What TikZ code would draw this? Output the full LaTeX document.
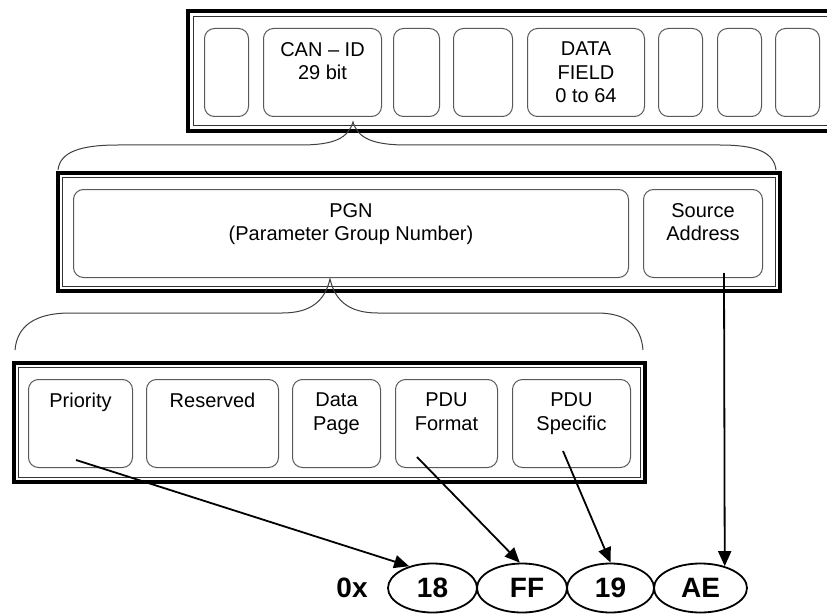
\documentclass[tikz,border=0pt]{standalone}
\usepackage{fontspec}
\setmainfont{Liberation Sans}
\usetikzlibrary{arrows.meta,shapes.geometric}
\tikzset{
  rbox/.style={draw=black!65, line width=1pt, rounded corners=10pt, minimum height=88pt, inner sep=0pt, anchor=north west},
  lbl/.style={font=\fontsize{20}{23.5}\selectfont, align=center, inner sep=0pt, anchor=north},
  frout/.style={draw=black, line width=4pt},
  frin/.style={draw=black!80, line width=1pt},
  brace/.style={draw=black!75, line width=1pt},
  ell/.style={draw=black, line width=1.8pt, ellipse, minimum height=49pt, inner sep=0pt, font=\fontsize{28}{30}\selectfont\bfseries},
  arr/.style={draw=black, line width=1.8pt, -{Triangle[length=15pt,width=13pt]}}
}
\begin{document}
\begin{tikzpicture}[x=1pt,y=-1pt]
\useasboundingbox (0,0) rectangle (827,615);
\clip (0,0) rectangle (827,615);
\fill[white] (0,0) rectangle (827,615);

% ---------- frame 1 (CAN frame) ----------
\draw[frout] (188,11.5) rectangle (850,131);
\draw[frin] (193,16.5) rectangle (845,126);
\node[rbox, minimum width=44pt]  (b1)   at (204,28) {};
\node[rbox, minimum width=118pt] (can)  at (263,28) {};
\node[rbox, minimum width=46pt]  (b3)   at (393,28) {};
\node[rbox, minimum width=59pt]  (b4)   at (453,28) {};
\node[rbox, minimum width=117pt] (data) at (527,28) {};
\node[rbox, minimum width=44pt]  (b6)   at (658,28) {};
\node[rbox, minimum width=44pt]  (b7)   at (717,28) {};
\node[rbox, minimum width=44pt]  (b8)   at (775,28) {};
\node[lbl] (tcan)  at ([yshift=-14pt]can.north)  {CAN -- ID\\29 bit};
\node[lbl] (tdata) at ([yshift=-14pt]data.north) {DATA\\FIELD\\0 to 64};

% ---------- brace 1 ----------
\draw[brace] (58,170) .. controls (60,152) and (80,145) .. (118,145)
  -- (300,145) .. controls (335,145) and (348,138) .. (353,122)
  .. controls (358,138) and (372,145) .. (407,145)
  -- (720,145) .. controls (758,145) and (774,153) .. (776,170);

% ---------- frame 2 ----------
\draw[frout] (58,172.5) rectangle (779.5,291);
\draw[frin] (62.5,177) rectangle (775,286.5);
\node[rbox, minimum width=555pt] (pgn) at (73,189) {};
\node[rbox, minimum width=119pt] (src) at (643,189) {};
\node[lbl] (tpgn) at ([yshift=-14pt]pgn.north) {PGN\\(Parameter Group Number)};
\node[lbl] (tsrc) at ([yshift=-14pt]src.north) {Source\\Address};

% ---------- brace 2 ----------
\draw[brace] (15,350) .. controls (17,326) and (35,313) .. (70,313)
  -- (282,313) .. controls (312,313) and (325,300) .. (330,279)
  .. controls (335,300) and (348,313) .. (378,313)
  -- (597,313) .. controls (627,313) and (641,326) .. (643,350);

% ---------- frame 3 ----------
\draw[frout] (14,362.5) rectangle (645,481.5);
\draw[frin] (18.5,367) rectangle (640.5,477);
\node[rbox, minimum width=104pt] (prio) at (28,379) {};
\node[rbox, minimum width=132pt] (resv) at (146,379) {};
\node[rbox, minimum width=88pt]  (dp)   at (292,379) {};
\node[rbox, minimum width=102pt] (pf)   at (395,379) {};
\node[rbox, minimum width=118pt] (ps)   at (512,379) {};
\node[lbl] (tprio) at ([yshift=-14pt]prio.north) {Priority};
\node[lbl] (tresv) at ([yshift=-14pt]resv.north) {Reserved};
\node[lbl] (tdp)   at ([yshift=-14pt]dp.north)   {Data\\Page};
\node[lbl] (tpf)   at ([yshift=-14pt]pf.north)   {PDU\\Format};
\node[lbl] (tps)   at ([yshift=-14pt]ps.north)   {PDU\\Specific};

% ---------- value ellipses ----------
\node[font=\fontsize{28}{30}\selectfont\bfseries, inner sep=0pt] (ox) at (352,588) {0x};
\node[ell, minimum width=89pt] (e18) at (432.5,588) {18};
\node[ell, minimum width=90pt] (eFF) at (522,588)   {\hspace*{10pt}FF};
\node[ell, minimum width=87pt] (e19) at (610.5,588) {19};
\node[ell, minimum width=93pt] (eAE) at (700.5,588) {AE};

% ---------- arrows ----------
\coordinate (sprio) at (76,460);
\coordinate (spf)   at (417,457);
\coordinate (sps)   at (563,451);
\coordinate (ssrc)  at (724,273);
\draw[arr] (sprio) -- (e18.137);
\draw[arr] (spf)   -- (eFF.95);
\draw[arr] (sps)   -- (e19.north);
\draw[arr] (ssrc)  -- (eAE.42);
\end{tikzpicture}
\end{document}
